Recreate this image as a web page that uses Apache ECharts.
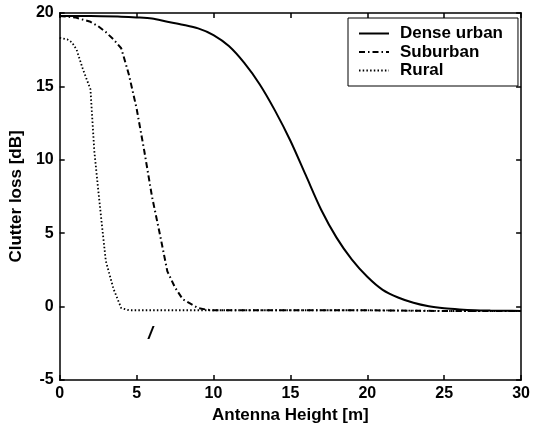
<!DOCTYPE html>
<html>
<head>
<meta charset="utf-8">
<script src="https://cdn.jsdelivr.net/npm/echarts@6/dist/echarts.min.js"></script>
<style>
  html, body { margin: 0; padding: 0; background: #fff; }
  #chart { width: 533px; height: 429px; }
</style>
</head>
<body>
<div id="chart"></div>
<script>
// Antenna heights [m] and clutter loss [dB] for each environment
const denseUrbanX = [0, 2, 4, 5, 6, 7, 8, 9, 10, 11, 12, 13, 14, 15, 16, 17, 18, 19, 20, 21, 22, 23, 24, 25, 26, 27, 28, 29, 30];
const denseUrbanY = [19.8, 19.8, 19.75, 19.7, 19.62, 19.4, 19.2, 18.95, 18.5, 17.75, 16.6, 15.15, 13.35, 11.3, 8.95, 6.6, 4.7, 3.2, 2.03, 1.14, 0.62, 0.26, 0.02, -0.12, -0.2, -0.25, -0.27, -0.28, -0.3];

const suburbanX = [0, 1, 2, 2.5, 3, 3.5, 4, 4.5, 5, 5.5, 6, 6.5, 7, 7.5, 8, 8.5, 9, 9.5, 10, 15, 20, 25, 30];
const suburbanY = [19.8, 19.7, 19.4, 19.1, 18.7, 18.2, 17.6, 15.8, 13.5, 10.6, 7.5, 5.0, 2.4, 1.3, 0.5, 0.2, -0.1, -0.2, -0.25, -0.25, -0.25, -0.3, -0.3];

const ruralX = [0, 0.5, 0.8, 1.1, 1.5, 2, 2.25, 2.5, 2.75, 3, 3.5, 4, 4.5, 5, 10, 15, 20, 25, 30];
const ruralY = [18.3, 18.2, 18.0, 17.5, 16.2, 14.8, 10.6, 8.0, 5.5, 3.1, 1.2, -0.1, -0.25, -0.25, -0.25, -0.25, -0.25, -0.3, -0.3];

const seriesNames = ['Dense urban', 'Suburban', 'Rural'];
const xAxisTitle = 'Antenna Height [m]';
const yAxisTitle = 'Clutter loss [dB]';

const pair = (xs, ys) => xs.map((x, i) => [x, ys[i]]);

const FONT = 'Liberation Sans, Arial, Helvetica, sans-serif';
const frameLine = { show: true, onZero: false, lineStyle: { color: '#000', width: 1.5 } };
const innerTicks = { show: true, inside: true, length: 5, lineStyle: { color: '#000', width: 1.5 } };

const chart = echarts.init(document.getElementById('chart'));
chart.setOption({
  animation: false,
  backgroundColor: '#fff',
  grid: { left: 58, top: 13, right: 8, bottom: 47 },
  legend: {
    data: seriesNames,
    orient: 'vertical',
    left: 348,
    top: 18,
    padding: [7, 15, 7, 10],
    itemGap: 1.5,
    itemWidth: 30,
    itemHeight: 14,
    backgroundColor: '#fff',
    borderColor: '#000',
    borderWidth: 1,
    itemStyle: { opacity: 0 },
    textStyle: { fontFamily: FONT, fontSize: 17, fontWeight: 'bold', color: '#000', padding: [0, 0, 0, 6] }
  },
  xAxis: [
    {
      type: 'value', position: 'bottom', min: 0, max: 30, interval: 5,
      name: xAxisTitle, nameLocation: 'middle', nameGap: 27,
      nameTextStyle: { fontFamily: FONT, fontSize: 17, fontWeight: 'bold', color: '#000' },
      axisLine: frameLine, axisTick: innerTicks,
      axisLabel: { fontFamily: FONT, fontSize: 16, fontWeight: 'bold', color: '#000', margin: 6 },
      splitLine: { show: false }
    },
    {
      type: 'value', position: 'top', min: 0, max: 30, interval: 5,
      axisLine: frameLine, axisTick: innerTicks,
      axisLabel: { show: false }, splitLine: { show: false }
    }
  ],
  yAxis: [
    {
      type: 'value', position: 'left', min: -5, max: 20, interval: 5,
      name: yAxisTitle, nameLocation: 'middle', nameGap: 30,
      nameTextStyle: { fontFamily: FONT, fontSize: 17, fontWeight: 'bold', color: '#000' },
      axisLine: frameLine, axisTick: innerTicks,
      axisLabel: { fontFamily: FONT, fontSize: 16, fontWeight: 'bold', color: '#000', margin: 6 },
      splitLine: { show: false }
    },
    {
      type: 'value', position: 'right', min: -5, max: 20, interval: 5,
      axisLine: frameLine, axisTick: innerTicks,
      axisLabel: { show: false }, splitLine: { show: false }
    }
  ],
  series: [
    {
      name: seriesNames[0], type: 'line', smooth: 0.3, symbol: 'none',
      data: pair(denseUrbanX, denseUrbanY),
      lineStyle: { color: '#000', width: 2, type: 'solid' },
      itemStyle: { color: '#000' }
    },
    {
      name: seriesNames[1], type: 'line', symbol: 'none',
      data: pair(suburbanX, suburbanY),
      lineStyle: { color: '#000', width: 2, type: [6, 3, 1.5, 3] },
      itemStyle: { color: '#000' }
    },
    {
      name: seriesNames[2], type: 'line', symbol: 'none',
      data: pair(ruralX, ruralY),
      lineStyle: { color: '#000', width: 1.8, type: [1.5, 2.2] },
      itemStyle: { color: '#000' }
    }
  ],
  graphic: [
    {
      type: 'text', left: 148, top: 325,
      style: { text: '/', fontFamily: FONT, fontSize: 18, fontStyle: 'italic', fontWeight: 'bold', fill: '#000' }
    }
  ]
});
</script>
</body>
</html>
